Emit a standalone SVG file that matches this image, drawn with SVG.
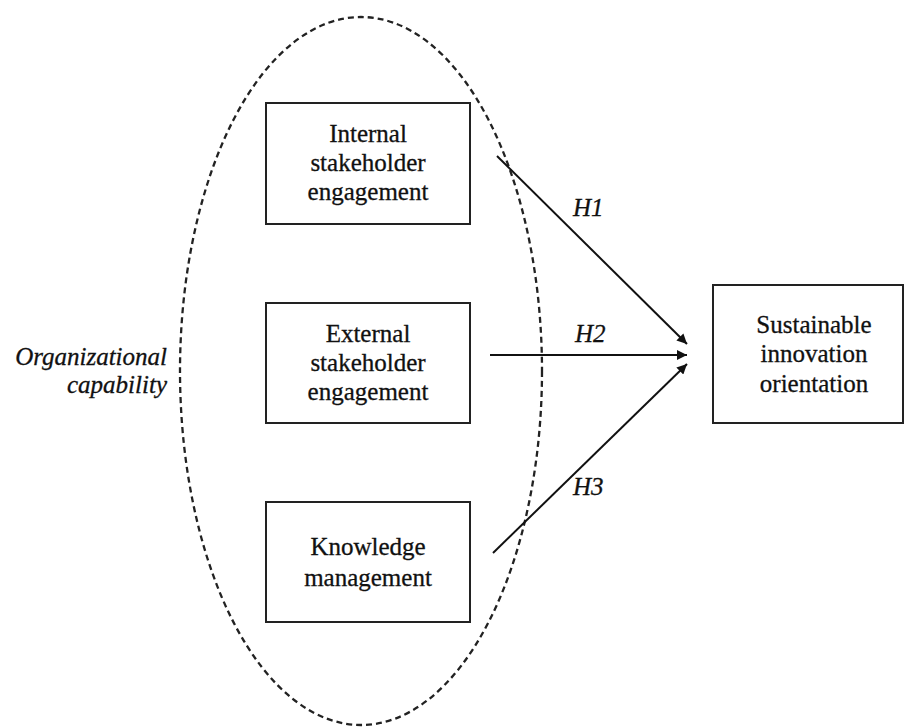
<svg xmlns="http://www.w3.org/2000/svg" width="905" height="727" viewBox="0 0 905 727">
<style>
.box{fill:#fff;stroke:#222;stroke-width:2}
.t{font-family:'Liberation Serif','Times New Roman',Times,'DejaVu Serif',serif;font-size:25px;fill:#111;text-anchor:middle;stroke:#111;stroke-width:0.3}
.i{font-family:'Liberation Serif','Times New Roman',Times,'DejaVu Serif',serif;font-size:25px;font-style:italic;fill:#111;stroke:#111;stroke-width:0.3}
.c{stroke:#111;stroke-width:2;fill:none;marker-end:url(#ah)}
</style>
<defs>
<marker id="ah" viewBox="0 0 10 10" refX="10" refY="5" markerWidth="5.5" markerHeight="5" orient="auto" markerUnits="strokeWidth">
<path d="M0,0 L10,5 L0,10 z" fill="#111"/>
</marker>
</defs>
<rect width="905" height="727" fill="#fff"/>
<g id="group-ellipse">
<ellipse cx="361" cy="371" rx="181" ry="354" fill="none" stroke="#222" stroke-width="2.3" stroke-dasharray="6 4"/>
<text class="i" x="167" y="365" text-anchor="end">Organizational</text>
<text class="i" x="167" y="393" text-anchor="end">capability</text>
</g>
<g id="node-internal">
<rect class="box" x="266" y="103" width="204" height="121"/>
<text class="t" x="368" y="142">Internal</text>
<text class="t" x="368" y="171">stakeholder</text>
<text class="t" x="368" y="200">engagement</text>
</g>
<g id="node-external">
<rect class="box" x="266" y="303" width="204" height="120"/>
<text class="t" x="368" y="342">External</text>
<text class="t" x="368" y="371">stakeholder</text>
<text class="t" x="368" y="400">engagement</text>
</g>
<g id="node-knowledge">
<rect class="box" x="266" y="502" width="204" height="120"/>
<text class="t" x="368" y="555">Knowledge</text>
<text class="t" x="368" y="586">management</text>
</g>
<g id="node-sustainable">
<rect class="box" x="713" y="285" width="190" height="138"/>
<text class="t" x="814" y="333">Sustainable</text>
<text class="t" x="814" y="362">innovation</text>
<text class="t" x="814" y="392">orientation</text>
</g>
<g id="connectors">
<line class="c" x1="497" y1="156" x2="687" y2="344"/>
<line class="c" x1="490" y1="355" x2="687" y2="355"/>
<line class="c" x1="493" y1="553" x2="687" y2="364"/>
<text class="i" x="573" y="216">H1</text>
<text class="i" x="575" y="342">H2</text>
<text class="i" x="573" y="495">H3</text>
</g>
</svg>
